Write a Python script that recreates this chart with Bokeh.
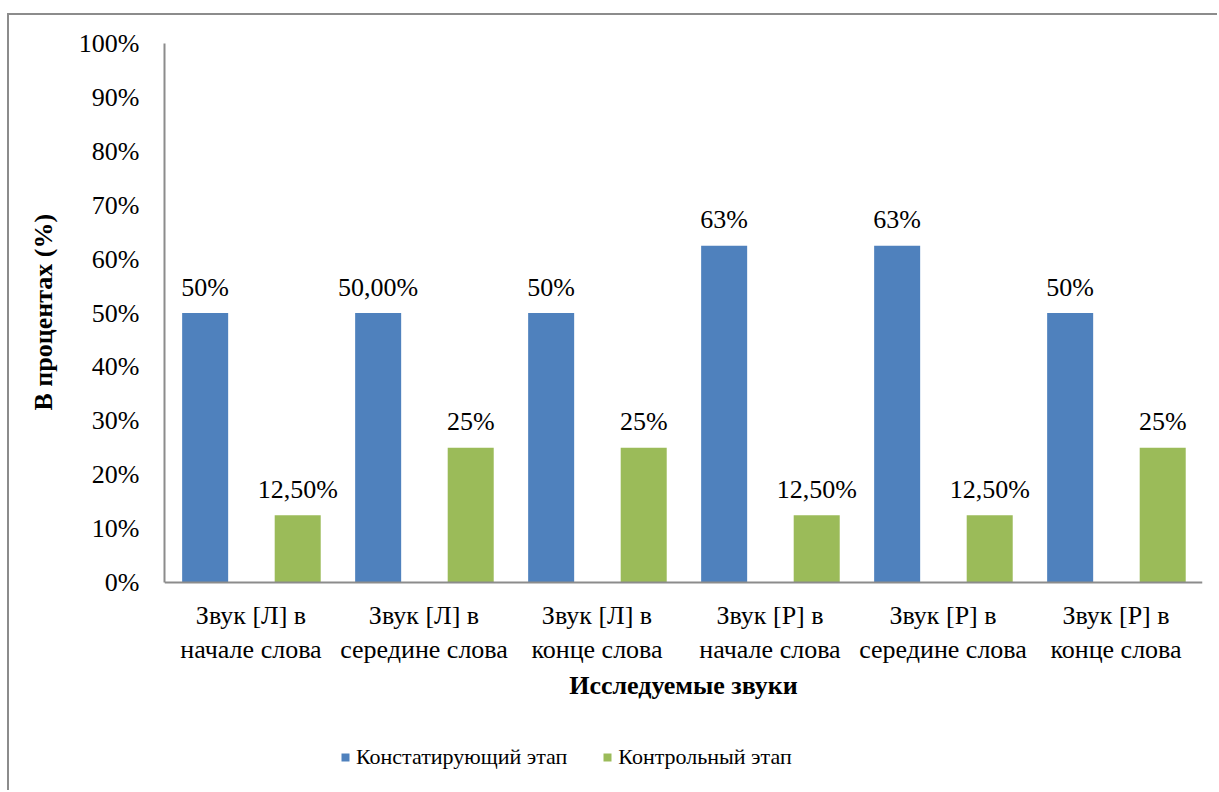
from bokeh.plotting import figure
from bokeh.models import ColumnDataSource, FactorRange, Legend, LegendItem, LabelSet, FixedTicker, Range1d, Title
from bokeh.transform import dodge
from bokeh.embed import file_html
from bokeh.resources import INLINE

categories = ["Звук [Л] в\nначале слова", "Звук [Л] в\nсередине слова", "Звук [Л] в\nконце слова",
              "Звук [Р] в\nначале слова", "Звук [Р] в\nсередине слова", "Звук [Р] в\nконце слова"]
stage1 = [50, 50, 50, 62.5, 62.5, 50]
stage2 = [12.5, 25, 25, 12.5, 12.5, 25]
stage1_labels = ["50%", "50,00%", "50%", "63%", "63%", "50%"]
stage2_labels = ["12,50%", "25%", "25%", "12,50%", "12,50%", "25%"]
series_names = ["Констатирующий этап", "Контрольный этап"]
y_ticks = [0, 10, 20, 30, 40, 50, 60, 70, 80, 90, 100]
y_title = "В процентах (%)"
x_title = "Исследуемые звуки"

BLUE = "#4F81BD"
GREEN = "#9BBB59"
FONT = "Liberation Serif"
GRAY = "#8c8c8c"

src = ColumnDataSource(dict(cat=categories, s1=stage1, s2=stage2, l1=stage1_labels, l2=stage2_labels))

# frame extends below the value axis so that the category labels, axis title and legend sit inside it
FRAME_H = 737
Y_TOP = 100
Y_BOTTOM = -(FRAME_H - 539) / 539 * 100

p = figure(x_range=FactorRange(factors=categories, range_padding=0), y_range=Range1d(Y_BOTTOM, Y_TOP),
           frame_width=1038, frame_height=FRAME_H, output_backend="svg", toolbar_location=None,
           min_border_left=155, min_border_top=28, min_border_right=15, min_border_bottom=10)
p.styles = {"margin-top": "13px", "margin-left": "7px",
            "border-top": f"2px solid {GRAY}", "border-left": f"2px solid {GRAY}"}
p.outline_line_color = None
p.grid.grid_line_color = None
p.background_fill_color = "white"
p.border_fill_color = "white"

W = 0.266
r1 = p.vbar(x=dodge("cat", -0.265, range=p.x_range), top="s1", bottom=0, width=W, source=src, color=BLUE, line_color=None)
r2 = p.vbar(x=dodge("cat", 0.27, range=p.x_range), top="s2", bottom=0, width=W, source=src, color=GREEN, line_color=None)

for xo, col, lab in [(-0.265, "s1", "l1"), (0.27, "s2", "l2")]:
    ls = LabelSet(x=dodge("cat", xo, range=p.x_range), y=col, text=lab, source=src,
                  y_offset=26, text_align="center", text_baseline="middle",
                  text_font=FONT, text_font_size="26px", text_color="black")
    p.add_layout(ls)

# axes
p.yaxis.ticker = FixedTicker(ticks=y_ticks)
p.yaxis.bounds = (0, 100)
p.yaxis.major_label_overrides = {t: f"{t}%" for t in y_ticks}
p.xaxis.fixed_location = 0
for ax in (p.xaxis[0], p.yaxis[0]):
    ax.axis_line_color = GRAY
    ax.axis_line_width = 2
    ax.major_tick_line_color = None
    ax.minor_tick_line_color = None
    ax.major_tick_out = 0
    ax.major_tick_in = 0
    ax.major_label_text_font = FONT
    ax.major_label_text_font_size = "26px"
    ax.major_label_text_color = "black"
    ax.axis_label_text_font = FONT
    ax.axis_label_text_font_size = "26px"
    ax.axis_label_text_font_style = "bold"
    ax.axis_label_text_color = "black"

p.yaxis.major_label_standoff = 25
p.xaxis.axis_label = x_title
p.xaxis.major_label_standoff = 18
p.xaxis.axis_label_standoff = 4
p.xaxis.major_label_orientation = "horizontal"

ytitle = Title(text=y_title, align="left", offset=370, standoff=35,
               text_font=FONT, text_font_size="26px", text_font_style="bold", text_color="black")
p.add_layout(ytitle, "left")

legend = Legend(items=[LegendItem(label=series_names[0], renderers=[r1]),
                       LegendItem(label=series_names[1], renderers=[r2])],
                orientation="horizontal", location=(176, 10),
                label_text_font=FONT, label_text_font_size="22px", label_text_color="black",
                glyph_width=10, glyph_height=10, label_standoff=6, spacing=35,
                padding=0, margin=0, border_line_color=None, background_fill_alpha=0,
                label_height=22)
p.add_layout(legend, "center")

open("out.html", "w").write(file_html(p, INLINE))
